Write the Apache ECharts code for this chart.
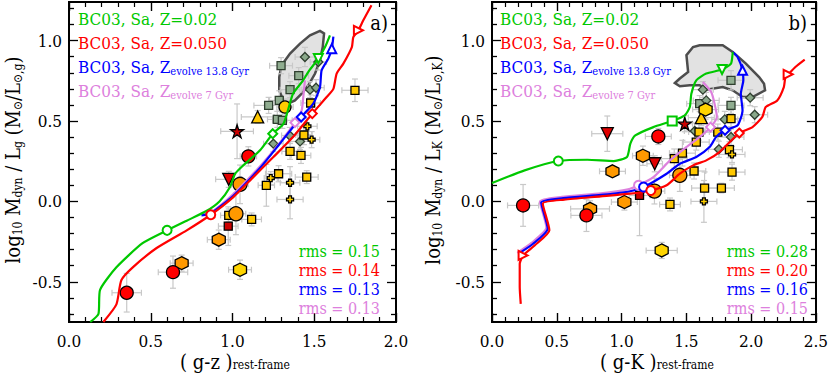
<!DOCTYPE html>
<html>
<head>
<meta charset="utf-8">
<script src="https://cdn.jsdelivr.net/npm/echarts@6/dist/echarts.min.js"></script>
<style>
  html, body { margin: 0; padding: 0; background: #fff; }
  #chart { width: 831px; height: 373px; }
</style>
</head>
<body>
<div id="chart"></div>
<script>
// ---- tick values ----
var yMajor = [-0.5, 0.0, 0.5, 1.0];
var yMinor = [-0.7, -0.6, -0.4, -0.3, -0.2, -0.1, 0.1, 0.2, 0.3, 0.4, 0.6, 0.7, 0.8, 0.9, 1.1, 1.2];

// ---- panel a) g-z : points [x, y, xerr, yerr] ----
var gzRedCircles = [[0.353, -0.568, 0.09, 0.12], [0.636, -0.44, 0.09, 0.10], [1.097, 0.28, 0.05, 0.06]];
var gzOrangeHex = [[0.689, -0.384, 0.07, 0.05], [0.916, -0.238, 0.07, 0.06]];
var gzYellowHex = [[1.046, -0.425, 0.07, 0.06]];
var gzOrangeCircles = [[1.021, -0.077, 0.06, 0.13], [1.046, 0.106, 0.05, 0.12]];
var gzYellowCircles = [[1.321, 0.587, 0.05, 0.05]];
var gzRedTriangles = [[0.977, 0.137, 0.08, 0.05]];
var gzRedStars = [[1.028, 0.436, 0.10, 0.17]];
var gzYellowTriangles = [[1.154, 0.525, 0.10, 0.04]];
var gzRedSquares = [[0.974, -0.154, 0.06, 0.12]];
var gzYellowSquares = [[0.977, -0.087, 0.05, 0.04], [1.117, -0.112, 0.06, 0.04], [1.207, 0.10, 0.05, 0.13],
  [1.282, 0.172, 0.08, 0.05], [1.352, 0.311, 0.05, 0.05], [1.419, 0.286, 0.06, 0.05], [1.437, 0.413, 0.05, 0.06],
  [1.454, 0.151, 0.07, 0.04], [1.478, 0.612, 0.06, 0.05], [1.749, 0.691, 0.08, 0.07]];
var gzYellowStars = [[1.234, 0.145, 0.04, 0.04], [1.352, 0.116, 0.06, 0.10], [1.352, 0.012, 0.08, 0.12],
  [1.484, 0.384, 0.05, 0.05], [1.458, 0.467, 0.06, 0.05]];
var gzGreenDiamonds = [[1.443, 0.898, 0.06, 0.06], [1.25, 0.359, 0.06, 0.05], [1.413, 0.373, 0.06, 0.05],
  [1.474, 0.695, 0.05, 0.05], [1.511, 0.707, 0.05, 0.05], [1.525, 0.867, 0.05, 0.05], [1.35, 0.41, 0.05, 0.05]];
var gzGreenSquares = [[1.297, 0.844, 0.07, 0.05], [1.405, 0.782, 0.06, 0.05], [1.352, 0.695, 0.06, 0.05],
  [1.221, 0.597, 0.09, 0.05], [1.286, 0.628, 0.06, 0.06], [1.274, 0.51, 0.06, 0.05], [1.305, 0.504, 0.06, 0.05]];

// model tracks, g-z
var gzGreenLine = [[0.13, -0.75], [0.18, -0.70], [0.19, -0.55], [0.29, -0.41], [0.45, -0.26], [0.60, -0.18],
  [0.72, -0.12], [0.84, -0.06], [0.92, 0.0], [0.985, 0.09], [1.015, 0.17], [1.066, 0.224], [1.17, 0.32],
  [1.246, 0.421], [1.31, 0.48], [1.34, 0.57], [1.37, 0.67], [1.43, 0.75], [1.47, 0.815], [1.525, 0.888],
  [1.566, 0.96], [1.596, 1.033]];
var gzRedLine = [[0.21, -0.75], [0.29, -0.64], [0.32, -0.49], [0.39, -0.41], [0.536, -0.29], [0.72, -0.18],
  [0.867, -0.083], [1.005, 0.027], [1.127, 0.151], [1.25, 0.276], [1.37, 0.40], [1.488, 0.546], [1.576, 0.649],
  [1.617, 0.70], [1.637, 0.795], [1.678, 0.857], [1.73, 0.96], [1.739, 1.022], [1.77, 1.064], [1.80, 1.126], [1.85, 1.22]];
var gzBlueLine = [[0.81, -0.087], [0.867, -0.075], [1.005, 0.035], [1.17, 0.21], [1.29, 0.36], [1.42, 0.525],
  [1.494, 0.608], [1.535, 0.71], [1.545, 0.815], [1.586, 0.888], [1.607, 0.95], [1.617, 1.025]];
var gzVioletLine = [[0.82, -0.08], [0.867, -0.07], [1.005, 0.045], [1.17, 0.22], [1.27, 0.34], [1.382, 0.49],
  [1.423, 0.566], [1.433, 0.65], [1.443, 0.753]];
var gzGreenMarks = [[0.60, -0.18], [1.246, 0.421], [1.525, 0.888]];
var gzRedMarks = [[0.867, -0.083], [1.488, 0.546], [1.77, 1.064]];
var gzBlueMarks = [[1.42, 0.525], [1.607, 0.95]];
var gzVioletMarks = [[1.382, 0.49]];
var gzContour = [[1.30, 0.846], [1.352, 0.919], [1.413, 0.981], [1.474, 1.033], [1.535, 1.060], [1.56, 1.044],
  [1.552, 0.96], [1.535, 0.877], [1.505, 0.795], [1.464, 0.722], [1.423, 0.67], [1.382, 0.628], [1.341, 0.608],
  [1.311, 0.628], [1.286, 0.69], [1.286, 0.773]];

// ---- panel b) g-K ----
var gkRedCircles = [[0.24, -0.025, 0.12, 0.13], [0.729, -0.087, 0.12, 0.10], [1.284, 0.404, 0.10, 0.05]];
var gkOrangeHex = [[0.757, -0.046, 0.15, 0.05], [0.93, 0.187, 0.10, 0.03], [1.022, -0.004, 0.10, 0.05], [1.165, 0.284, 0.08, 0.06]];
var gkYellowHex = [[1.31, -0.305, 0.12, 0.05], [1.649, 0.571, 0.10, 0.06]];
var gkOrangeCircles = [[1.254, 0.064, 0.08, 0.08], [1.45, 0.162, 0.08, 0.10]];
var gkRedTriangles = [[0.89, 0.421, 0.12, 0.11], [1.256, 0.234, 0.06, 0.05]];
var gkRedStars = [[1.488, 0.483, 0.06, 0.05]];
var gkYellowTriangles = [[1.616, 0.521, 0.10, 0.05]];
var gkRedSquares = [[1.139, 0.037, 0.08, 0.25]];
var gkYellowSquares = [[1.374, -0.019, 0.08, 0.04], [1.407, 0.266, 0.10, 0.06], [1.47, 0.30, 0.10, 0.08],
  [1.56, 0.189, 0.09, 0.05], [1.641, 0.083, 0.10, 0.10], [1.771, 0.083, 0.10, 0.03], [1.853, 0.182, 0.10, 0.05],
  [1.845, 0.515, 0.10, 0.05], [1.833, 0.322, 0.10, 0.05], [1.598, 0.431, 0.08, 0.05], [1.577, 0.369, 0.10, 0.05],
  [1.743, 0.431, 0.10, 0.05]];
var gkYellowStars = [[1.636, 0.0, 0.10, 0.13], [1.853, 0.292, 0.10, 0.05]];
var gkGreenDiamonds = [[1.628, 0.695, 0.08, 0.05], [1.993, 0.645, 0.10, 0.05], [2.028, 0.539, 0.10, 0.05],
  [1.751, 0.324, 0.08, 0.05], [1.565, 0.438, 0.08, 0.05], [1.654, 0.628, 0.10, 0.05], [1.797, 0.51, 0.10, 0.05],
  [1.845, 0.40, 0.10, 0.05]];
var gkGreenSquares = [[1.845, 0.753, 0.10, 0.06], [1.845, 0.597, 0.10, 0.05], [1.603, 0.608, 0.10, 0.05]];

var gkGreenLine = [[0.0, 0.114], [0.252, 0.193], [0.512, 0.251], [0.736, 0.259], [0.94, 0.251], [1.042, 0.276],
  [1.068, 0.359], [1.106, 0.41], [1.246, 0.462], [1.391, 0.50], [1.488, 0.535], [1.527, 0.587], [1.539, 0.67],
  [1.577, 0.753], [1.654, 0.795], [1.776, 0.82], [1.845, 0.857], [1.858, 0.929]];
var gkRedLine = [[0.222, -0.637], [0.214, -0.533], [0.214, -0.388], [0.24, -0.336], [0.329, -0.274], [0.443, -0.18],
  [0.392, -0.014], [0.558, 0.011], [0.839, 0.031], [1.068, 0.048], [1.226, 0.068], [1.348, 0.10], [1.45, 0.172],
  [1.552, 0.224], [1.654, 0.255], [1.756, 0.307], [1.909, 0.425], [2.011, 0.462], [2.087, 0.525], [2.113, 0.587],
  [2.202, 0.628], [2.253, 0.711], [2.265, 0.773], [2.286, 0.79], [2.342, 0.836], [2.414, 0.882]];
var gkBlueLine = [[0.205, -0.325], [0.315, -0.265], [0.43, -0.17], [0.38, -0.007], [0.55, 0.02], [0.84, 0.04],
  [1.05, 0.06], [1.17, 0.089], [1.348, 0.172], [1.45, 0.234], [1.577, 0.276], [1.68, 0.338], [1.73, 0.40],
  [1.799, 0.442], [1.896, 0.473], [1.934, 0.566], [1.921, 0.67], [1.94, 0.753], [1.934, 0.815], [1.896, 0.898], [1.858, 0.929]];
var gkVioletLine = [[0.195, -0.32], [0.305, -0.258], [0.42, -0.163], [0.37, 0.0], [0.54, 0.028], [0.84, 0.05],
  [1.05, 0.075], [1.131, 0.10], [1.246, 0.151], [1.374, 0.255], [1.50, 0.338], [1.603, 0.40], [1.687, 0.462],
  [1.736, 0.525], [1.718, 0.608], [1.692, 0.68], [1.628, 0.742]];
var gkGreenMarks = [[0.512, 0.251], [1.391, 0.50], [1.776, 0.82]];
var gkRedMarks = [[0.24, -0.336], [1.226, 0.068], [1.909, 0.425], [2.286, 0.79]];
var gkBlueMarks = [[1.17, 0.089], [1.799, 0.442], [1.934, 0.815]];
var gkVioletMarks = [[1.131, 0.10], [1.687, 0.462]];
var gkContour = [[1.412, 0.736], [1.45, 0.764], [1.514, 0.805], [1.501, 0.909], [1.552, 0.96], [1.603, 0.971],
  [1.781, 0.971], [1.858, 0.929], [1.96, 0.857], [2.062, 0.773], [2.10, 0.732], [2.108, 0.691], [2.011, 0.649],
  [1.934, 0.649], [1.858, 0.691], [1.781, 0.711], [1.654, 0.695], [1.603, 0.722], [1.527, 0.722], [1.45, 0.716]];

var gzRms = ['0.15', '0.14', '0.13', '0.13'];
var gkRms = ['0.28', '0.20', '0.16', '0.15'];

// ---- styling ----
var FONT = "'DejaVu Serif Condensed', 'Liberation Serif', serif";
var GREEN = '#00c800', RED = '#ff0000', BLUE = '#0000ff', VIOLET = '#dd80dd';
var HEX = 'path://M0,-1L0.866,-0.5L0.866,0.5L0,1L-0.866,0.5L-0.866,-0.5Z';
var STAR = 'path://M0,-1L0.2245,-0.309L0.951,-0.309L0.363,0.118L0.588,0.809L0,0.382L-0.588,0.809L-0.363,0.118L-0.951,-0.309L-0.2245,-0.309Z';
var PLUS = 'path://M-0.4,-1L0.4,-1L0.4,-0.4L1,-0.4L1,0.4L0.4,0.4L0.4,1L-0.4,1L-0.4,0.4L-1,0.4L-1,-0.4L-0.4,-0.4Z';

function xAxisCfg(grid, max, pos, labels) {
  return {
    type: 'value', gridIndex: grid, position: pos, min: 0, max: max, interval: 0.5,
    axisLine: { show: true, onZero: false, lineStyle: { color: '#000', width: 2 } },
    axisTick: { show: true, inside: true, length: 9, lineStyle: { color: '#000', width: 1.4 } },
    minorTick: { show: true, splitNumber: 5, length: 5, lineStyle: { color: '#000', width: 1.2 } },
    axisLabel: { show: labels, margin: 10, fontSize: 17, fontFamily: FONT, color: '#000',
      formatter: function (v) { return v.toFixed(1); } },
    splitLine: { show: false }
  };
}
function yAxisCfg(grid, pos, labels, ticks, len) {
  return {
    type: 'value', gridIndex: grid, position: pos, min: -0.75, max: 1.24,
    axisLine: { show: true, onZero: false, lineStyle: { color: '#000', width: 2 } },
    axisTick: { show: true, inside: true, length: len, customValues: ticks, lineStyle: { color: '#000', width: 1.3 } },
    axisLabel: { show: labels, customValues: yMajor, margin: 7, fontSize: 17, fontFamily: FONT, color: '#000',
      formatter: function (v) { return v.toFixed(1); } },
    splitLine: { show: false }
  };
}

function errBars(list, xi, yi) {
  return {
    type: 'custom', xAxisIndex: xi, yAxisIndex: yi, data: list, z: 2, silent: true, clip: true,
    renderItem: function (params, api) {
      var x = api.value(0), y = api.value(1), ex = api.value(2), ey = api.value(3);
      var a = api.coord([x - ex, y]), b = api.coord([x + ex, y]);
      var c = api.coord([x, y - ey]), d = api.coord([x, y + ey]);
      var st = { stroke: '#c8c8c8', lineWidth: 1.2 };
      function seg(x1, y1, x2, y2) { return { type: 'line', shape: { x1: x1, y1: y1, x2: x2, y2: y2 }, style: st }; }
      return { type: 'group', children: [
        seg(a[0], a[1], b[0], b[1]), seg(c[0], c[1], d[0], d[1]),
        seg(a[0], a[1] - 3, a[0], a[1] + 3), seg(b[0], b[1] - 3, b[0], b[1] + 3),
        seg(c[0] - 3, c[1], c[0] + 3, c[1]), seg(d[0] - 3, d[1], d[0] + 3, d[1])
      ] };
    }
  };
}
function region(points, xi, yi) {
  return {
    type: 'custom', xAxisIndex: xi, yAxisIndex: yi, data: [[points[0][0], points[0][1]]], z: 1, silent: true,
    renderItem: function (params, api) {
      return { type: 'polygon', shape: { points: points.map(function (p) { return api.coord(p); }) },
        style: { fill: '#e2e2e2', stroke: '#4d4d4d', lineWidth: 2.5 } };
    }
  };
}
function pts(list, xi, yi, symbol, size, color, border, rotate) {
  return {
    type: 'scatter', xAxisIndex: xi, yAxisIndex: yi, z: 3, silent: true,
    data: list.map(function (d) { return [d[0], d[1]]; }),
    symbol: symbol, symbolSize: size, symbolRotate: rotate || 0,
    itemStyle: { color: color, borderColor: border || '#000', borderWidth: 1.3, opacity: 1 }
  };
}
function curve(list, xi, yi, color) {
  return {
    type: 'line', xAxisIndex: xi, yAxisIndex: yi, data: list, z: 4, silent: true,
    symbol: 'none', showSymbol: false, smooth: 0.2, clip: true,
    lineStyle: { color: color, width: 2.2 }
  };
}
function marks(list, xi, yi, color, shapes, rots) {
  return {
    type: 'scatter', xAxisIndex: xi, yAxisIndex: yi, z: 5, silent: true, symbolSize: 9,
    data: list.map(function (d, i) { return { value: d, symbol: shapes[i], symbolRotate: rots[i] }; }),
    itemStyle: { color: '#fff', borderColor: color, borderWidth: 2, opacity: 1 }
  };
}
function panelSeries(p, xi, yi) {
  return [
    region(p.contour, xi, yi),
    errBars([].concat(p.redC, p.orHex, p.yeHex, p.orC, p.yeC, p.redT, p.redS, p.yeT, p.redSq, p.yeSq, p.yeSt, p.grD, p.grSq), xi, yi),
    pts(p.grSq, xi, yi, 'rect', 8, '#90ad90', '#2f3f2f'),
    pts(p.grD, xi, yi, 'diamond', 9, '#8aa88a', '#2f3f2f'),
    pts(p.yeSq, xi, yi, 'rect', 8, '#ffc800'),
    pts(p.yeSt, xi, yi, PLUS, 7, '#ffd000'),
    pts(p.redSq, xi, yi, 'rect', 8, '#cc0000'),
    pts(p.yeT, xi, yi, 'triangle', 12, '#ffc800'),
    pts(p.redS, xi, yi, STAR, 13, '#cc0000'),
    pts(p.redT, xi, yi, 'triangle', 12, '#e00000', '#000', 180),
    pts(p.yeC, xi, yi, 'circle', 12, '#ffcc00'),
    pts(p.orC, xi, yi, 'circle', 14, '#ff9900'),
    pts(p.yeHex, xi, yi, HEX, 13, '#ffd400'),
    pts(p.orHex, xi, yi, HEX, 13, '#ff9900'),
    pts(p.redC, xi, yi, 'circle', 13, '#ff0000')
  ];
}

var seriesA = panelSeries({
  contour: gzContour, redC: gzRedCircles, orHex: gzOrangeHex, yeHex: gzYellowHex, orC: gzOrangeCircles,
  yeC: gzYellowCircles, redT: gzRedTriangles, redS: gzRedStars, yeT: gzYellowTriangles, redSq: gzRedSquares,
  yeSq: gzYellowSquares, yeSt: gzYellowStars, grD: gzGreenDiamonds, grSq: gzGreenSquares
}, 0, 0).concat([
  curve(gzVioletLine, 0, 0, VIOLET), curve(gzBlueLine, 0, 0, BLUE),
  curve(gzRedLine, 0, 0, RED), curve(gzGreenLine, 0, 0, GREEN),
  marks(gzVioletMarks, 0, 0, VIOLET, ['diamond'], [0]),
  marks(gzBlueMarks, 0, 0, BLUE, ['diamond', 'triangle'], [0, 0]),
  marks(gzRedMarks, 0, 0, RED, ['circle', 'diamond', 'triangle'], [0, 0, -90]),
  marks(gzGreenMarks, 0, 0, GREEN, ['circle', 'diamond', 'triangle'], [0, 0, 180])
]);

var seriesB = panelSeries({
  contour: gkContour, redC: gkRedCircles, orHex: gkOrangeHex, yeHex: gkYellowHex, orC: gkOrangeCircles,
  yeC: [], redT: gkRedTriangles, redS: gkRedStars, yeT: gkYellowTriangles, redSq: gkRedSquares,
  yeSq: gkYellowSquares, yeSt: gkYellowStars, grD: gkGreenDiamonds, grSq: gkGreenSquares
}, 2, 4).concat([
  curve(gkVioletLine, 2, 4, VIOLET), curve(gkBlueLine, 2, 4, BLUE),
  curve(gkRedLine, 2, 4, RED), curve(gkGreenLine, 2, 4, GREEN),
  marks(gkVioletMarks, 2, 4, VIOLET, ['circle', 'diamond'], [0, 0]),
  marks(gkBlueMarks, 2, 4, BLUE, ['circle', 'diamond', 'triangle'], [0, 0, 0]),
  marks(gkRedMarks, 2, 4, RED, ['triangle', 'circle', 'diamond', 'triangle'], [-90, 0, 0, -90]),
  marks(gkGreenMarks, 2, 4, GREEN, ['circle', 'rect', 'triangle'], [0, 0, 180])
]);

// ---- text ----
function rich(color, size, lh) {
  return {
    a: { fontSize: size, fontFamily: FONT, fill: color, lineHeight: lh },
    s: { fontSize: Math.round(size * 0.62), fontFamily: FONT, fill: color, lineHeight: Math.round(lh / 2), verticalAlign: 'bottom' }
  };
}
function label(x, y, text, color, size, lh, align, rot) {
  return { type: 'text', x: x, y: y, rotation: rot || 0, z: 100, silent: true,
    style: { text: text, rich: rich(color, size, lh), align: align || 'left', verticalAlign: 'middle' } };
}
function legendBlock(x0) {
  return [
    label(x0, 19, '{a|BC03, Sa, Z=0.02}', GREEN, 17, 20),
    label(x0, 43, '{a|BC03, Sa, Z=0.050}', RED, 17, 20),
    label(x0, 67, '{a|BC03, Sa, Z}{s|evolve 13.8 Gyr}', BLUE, 17, 20),
    label(x0, 91, '{a|BC03, Sa, Z}{s|evolve 7 Gyr}', VIOLET, 17, 20)
  ];
}
function rmsBlock(xr, vals) {
  var cols = [GREEN, RED, BLUE, VIOLET];
  return vals.map(function (v, i) {
    return label(xr, 251 + 19 * i, '{a|rms = ' + v + '}', cols[i], 16, 16, 'right');
  });
}

var graphics = [].concat(
  legendBlock(78), legendBlock(500),
  rmsBlock(380, gzRms), rmsBlock(808, gkRms),
  [
    label(388, 23, '{a|a)}', '#000', 20, 22, 'right'),
    label(807, 23, '{a|b)}', '#000', 20, 22, 'right'),
    label(235, 362, '{a|( g-z )}{s|rest-frame}', '#000', 20, 18, 'center'),
    label(657, 362, '{a|( g-K )}{s|rest-frame}', '#000', 20, 18, 'center'),
    label(13, 160, '{a|log}{s|10}{a| M}{s|dyn}{a| / L}{s|g}{a| (M}{s|⊙}{a|/L}{s|⊙,g}{a|)}', '#000', 20, 22, 'center', Math.PI / 2),
    label(433, 160, '{a|log}{s|10}{a| M}{s|dyn}{a| / L}{s|K}{a| (M}{s|⊙}{a|/L}{s|⊙,K}{a|)}', '#000', 20, 22, 'center', Math.PI / 2)
  ]
);

var chart = echarts.init(document.getElementById('chart'), null, { renderer: 'svg' });
chart.setOption({
  backgroundColor: '#ffffff',
  animation: false,
  grid: [
    { left: 69, top: 2, width: 327, height: 320 },
    { left: 492, top: 2, width: 327, height: 320 }
  ],
  xAxis: [
    xAxisCfg(0, 2.0, 'bottom', true), xAxisCfg(0, 2.0, 'top', false),
    xAxisCfg(1, 2.5, 'bottom', true), xAxisCfg(1, 2.5, 'top', false)
  ],
  yAxis: [
    yAxisCfg(0, 'left', true, yMajor, 9), yAxisCfg(0, 'left', false, yMinor, 5),
    yAxisCfg(0, 'right', false, yMajor, 9), yAxisCfg(0, 'right', false, yMinor, 5),
    yAxisCfg(1, 'left', true, yMajor, 9), yAxisCfg(1, 'left', false, yMinor, 5),
    yAxisCfg(1, 'right', false, yMajor, 9), yAxisCfg(1, 'right', false, yMinor, 5)
  ],
  series: seriesA.concat(seriesB),
  graphic: graphics
});
</script>
</body>
</html>
